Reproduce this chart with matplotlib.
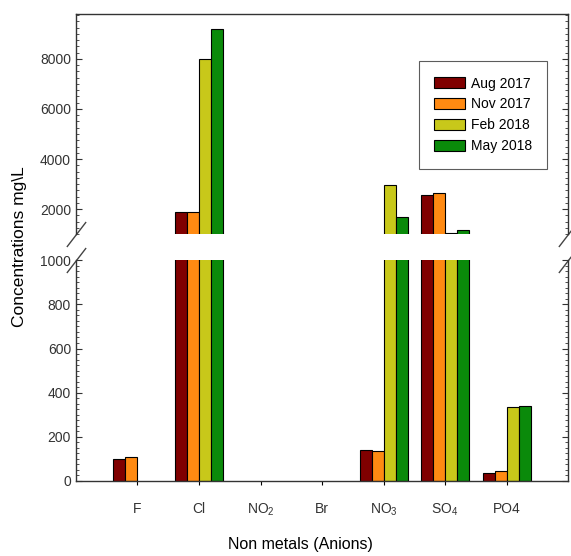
import numpy as np
import matplotlib
matplotlib.use('Agg')
import matplotlib.pyplot as plt
from matplotlib.patches import Patch
from matplotlib.ticker import MultipleLocator

plt.rcParams['font.family'] = ['Liberation Sans', 'DejaVu Sans']
plt.rcParams['mathtext.fontset'] = 'custom'
plt.rcParams['mathtext.rm'] = 'Liberation Sans'

# data (mg/L)
anions = ['F', 'Cl', r'NO$_\mathrm{2}$', 'Br', r'NO$_\mathrm{3}$', r'SO$_\mathrm{4}$', 'PO4']
seasons = ['Aug 2017', 'Nov 2017', 'Feb 2018', 'May 2018']
aug_2017 = [100, 1870, 0, 0, 140, 2570, 38]
nov_2017 = [110, 1870, 0, 0, 135, 2630, 45]
feb_2018 = [0, 8000, 0, 0, 2970, 1030, 335]
may_2018 = [0, 9180, 0, 0, 1700, 1150, 340]
series = [aug_2017, nov_2017, feb_2018, may_2018]
colors = ['#800000', '#ff8a12', '#c8c81a', '#0a8a0a']

fig = plt.figure(figsize=(5.71, 5.56), dpi=100)
ax_top = fig.add_axes([0.133, 0.579, 0.862, 0.396])
ax_bot = fig.add_axes([0.133, 0.135, 0.862, 0.397])

x = np.arange(1, len(anions) + 1)
w = 0.195
for ax in (ax_top, ax_bot):
    for i, vals in enumerate(series):
        bars = ax.bar(x + (i - 1.5) * w, vals, width=w, color=colors[i],
                      edgecolor='black', linewidth=0.8)
        # no outline for empty bars
        for b in bars:
            if b.get_height() == 0:
                b.set_linewidth(0)
    ax.set_xlim(0, 8)
    ax.tick_params(axis='y', which='both', direction='in', right=True,
                   labelsize=10, colors='#333333')
    ax.tick_params(axis='y', which='major', length=4)
    ax.tick_params(axis='y', which='minor', length=2)
    for s in ax.spines.values():
        s.set_color('#333333')
        s.set_linewidth(1.0)

ax_top.set_ylim(1000, 9800)
ax_top.yaxis.set_minor_locator(MultipleLocator(250))
ax_top.set_yticks([2000, 4000, 6000, 8000])
ax_top.spines['bottom'].set_visible(False)
ax_top.tick_params(axis='x', bottom=False, labelbottom=False)

ax_bot.set_ylim(0, 1000)
ax_bot.yaxis.set_major_locator(MultipleLocator(200))
ax_bot.yaxis.set_minor_locator(MultipleLocator(25))
ax_bot.spines['top'].set_visible(False)
ax_bot.set_xticks(x)
ax_bot.set_xticklabels(anions, fontsize=10, color='#333333')
ax_bot.tick_params(axis='x', direction='out', length=3, pad=12)

# break marks
kw = dict(marker=[(-1, -1.3), (1, 1.3)], markersize=18, linestyle='none',
          color='#444444', mec='#444444', mew=1, clip_on=False)
ax_top.plot([0, 1], [0, 0], transform=ax_top.transAxes, **kw)
ax_bot.plot([0, 1], [1, 1], transform=ax_bot.transAxes, **kw)

handles = [Patch(facecolor=c, edgecolor='black', linewidth=0.8) for c in colors]
leg = ax_top.legend(handles, seasons, loc='upper right', bbox_to_anchor=(0.957, 0.785),
                    fontsize=10, frameon=True, fancybox=False, edgecolor='#333333',
                    handlelength=2.2, handleheight=0.8, labelspacing=0.5,
                    borderpad=1.1, handletextpad=0.4, borderaxespad=0)
leg.get_frame().set_linewidth(0.8)

fig.text(0.035, 0.556, 'Concentrations mg\\L', rotation=90, va='center', ha='center',
         fontsize=12.5)
fig.text(0.527, 0.02, 'Non metals (Anions)', ha='center', va='center', fontsize=11.5)

fig.savefig('out.png', dpi=100)
